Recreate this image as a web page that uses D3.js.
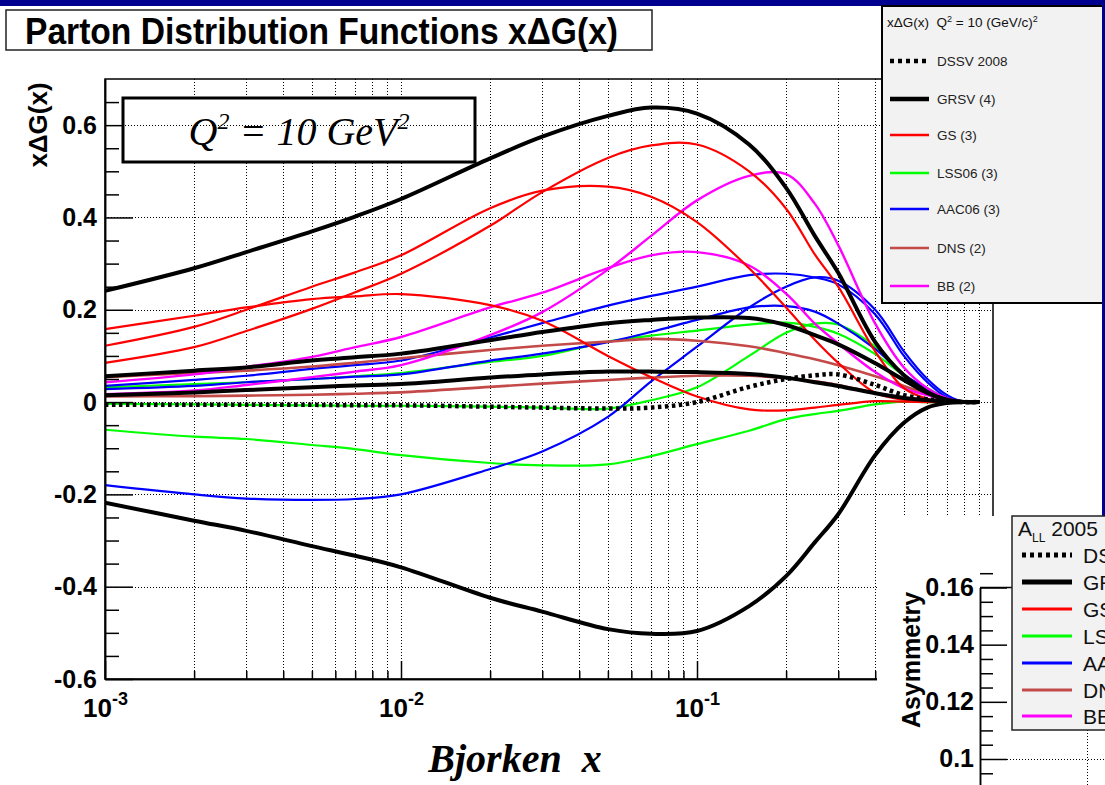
<!DOCTYPE html>
<html><head><meta charset="utf-8">
<script src="https://cdn.jsdelivr.net/npm/d3@7"></script>
<style>html,body{margin:0;padding:0;background:#fff;overflow:hidden}</style>
</head><body><svg id="c" width="1105" height="785"></svg>
<script>
// ---------------- DATA ----------------
const xPoints = [0.001,0.002,0.003,0.005,0.007,0.01,0.02,0.03,0.05,0.07,0.1,0.15,0.2,0.25,0.3,0.4,0.5,0.6,0.7,0.8,0.9];
const dssv2008 = [-0.006,-0.006,-0.006,-0.006,-0.007,-0.007,-0.01,-0.012,-0.014,-0.012,0.0,0.033,0.05,0.058,0.06,0.037,0.015,0.006,0.002,0,0];
const grsvMax  = [0.241,0.29,0.325,0.37,0.402,0.44,0.528,0.575,0.62,0.638,0.625,0.558,0.464,0.36,0.28,0.13,0.058,0.022,0.004,0,0];
const grsvStd  = [0.056,0.068,0.075,0.09,0.097,0.105,0.134,0.152,0.171,0.178,0.183,0.182,0.167,0.145,0.125,0.084,0.048,0.02,0.005,0,0];
const grsvZero = [0.015,0.021,0.026,0.032,0.036,0.039,0.053,0.06,0.066,0.066,0.065,0.061,0.053,0.043,0.035,0.019,0.009,0.004,0.001,0,0];
const grsvMin  = [-0.218,-0.257,-0.279,-0.312,-0.333,-0.358,-0.424,-0.454,-0.492,-0.502,-0.496,-0.442,-0.377,-0.304,-0.243,-0.115,-0.045,-0.012,-0.002,0,0];
const gsA = [0.085,0.119,0.154,0.202,0.238,0.278,0.382,0.455,0.529,0.556,0.558,0.50,0.419,0.32,0.25,0.11,0.03,0.007,0,0,0];
const gsB = [0.122,0.163,0.20,0.25,0.281,0.318,0.42,0.458,0.467,0.445,0.39,0.29,0.205,0.135,0.085,0.02,0.005,0.001,0,0,0];
const gsC = [0.158,0.187,0.205,0.223,0.229,0.234,0.21,0.176,0.10,0.054,0.012,-0.016,-0.018,-0.012,-0.006,0.002,0.001,0,0,0,0];
const lss1 = [0.032,0.039,0.043,0.05,0.056,0.063,0.087,0.1,0.131,0.144,0.155,0.168,0.172,0.163,0.148,0.104,0.058,0.03,0.008,0,0];
const lss2 = [-0.004,-0.005,-0.006,-0.007,-0.008,-0.008,-0.01,-0.012,-0.014,0.004,0.032,0.1,0.15,0.17,0.168,0.12,0.06,0.02,0.004,0,0];
const lss3 = [-0.06,-0.075,-0.08,-0.093,-0.102,-0.115,-0.132,-0.137,-0.135,-0.117,-0.091,-0.062,-0.037,-0.026,-0.019,-0.005,0.001,0,0,0,0];
const aac1 = [0.035,0.048,0.057,0.072,0.08,0.09,0.14,0.171,0.209,0.23,0.25,0.275,0.278,0.27,0.255,0.19,0.1,0.043,0.01,0,0];
const aac2 = [0.028,0.035,0.043,0.05,0.055,0.06,0.09,0.105,0.13,0.152,0.178,0.205,0.208,0.196,0.17,0.115,0.06,0.028,0.006,0,0];
const aac3 = [-0.18,-0.2,-0.209,-0.212,-0.21,-0.2,-0.145,-0.107,-0.032,0.045,0.12,0.205,0.25,0.27,0.263,0.2,0.11,0.05,0.015,0,0];
const dnsA = [0.054,0.063,0.068,0.077,0.085,0.095,0.113,0.122,0.131,0.137,0.133,0.121,0.106,0.093,0.08,0.056,0.035,0.017,0.004,0,0];
const dnsB = [0.012,0.013,0.014,0.016,0.018,0.021,0.033,0.04,0.048,0.053,0.057,0.057,0.052,0.045,0.037,0.02,0.008,0.003,0.001,0,0];
const bbA = [0.017,0.025,0.037,0.054,0.066,0.08,0.145,0.195,0.287,0.36,0.437,0.49,0.494,0.43,0.34,0.17,0.075,0.03,0.008,0,0];
const bbB = [0.043,0.06,0.076,0.098,0.119,0.141,0.205,0.237,0.29,0.318,0.325,0.296,0.235,0.17,0.127,0.065,0.03,0.015,0.004,0,0];

const yMajorTicks = [-0.6,-0.4,-0.2,0,0.2,0.4,0.6];
const yTickLabels = ["-0.6","-0.4","-0.2","0","0.2","0.4","0.6"];
const xMajorTicks = [0.001,0.01,0.1];
const xTickExponents = ["-3","-2","-1"];
const legendLabels = ["DSSV 2008","GRSV (4)","GS (3)","LSS06 (3)","AAC06 (3)","DNS (2)","BB (2)"];
const insetTicks = [0.16,0.14,0.12,0.1];
const insetTickLabels = ["0.16","0.14","0.12","0.1"];

// ---------------- STYLE ----------------
const C = {dssv:"#000",grsv:"#000",gs:"#ff0000",lss:"#00ff00",aac:"#0000ff",dns:"#c44a4a",bb:"#ff00ff"};
const series = [
  {v:lss3,c:C.lss,w:2.2},{v:lss2,c:C.lss,w:2.2},{v:lss1,c:C.lss,w:2.2},
  {v:aac3,c:C.aac,w:2.2},{v:aac2,c:C.aac,w:2.2},{v:aac1,c:C.aac,w:2.2},
  {v:dnsB,c:C.dns,w:2.6},{v:dnsA,c:C.dns,w:2.6},
  {v:bbB,c:C.bb,w:2.4},{v:bbA,c:C.bb,w:2.4},
  {v:gsC,c:C.gs,w:2.2},{v:gsB,c:C.gs,w:2.2},{v:gsA,c:C.gs,w:2.2},
  {v:grsvZero,c:C.grsv,w:4},{v:grsvStd,c:C.grsv,w:4},{v:grsvMax,c:C.grsv,w:4},{v:grsvMin,c:C.grsv,w:4},
  {v:dssv2008,c:C.dssv,w:4.5,dash:"3.5,3.5"}
];
const legendStyles = [
  {c:C.dssv,w:4.5,dash:"4,4"},{c:C.grsv,w:4.5},{c:C.gs,w:2.5},{c:C.lss,w:2.5},{c:C.aac,w:2.5},{c:C.dns,w:2.5},{c:C.bb,w:2.5}
];

const SANS = "'Liberation Sans', Arial, Helvetica, sans-serif";
const SERIF = "'Liberation Serif', 'Times New Roman', serif";
const W = 1105, H = 785;
const P = {l:105, r:993, t:79, b:679};

const svg = d3.select('#c');
svg.append('rect').attr('width',W).attr('height',H).attr('fill','#fff');

const x = d3.scaleLog().domain([1e-3,1]).range([P.l,P.r]);
const y = d3.scaleLinear().domain([-0.6,0.7]).range([P.b,P.t]);

// ---------- grid ----------
const xGridVals = [];
for (let e=-3;e<0;e++) for (let k=1;k<10;k++) xGridVals.push(+(k*Math.pow(10,e)).toPrecision(3));
const grid = svg.append('g').attr('stroke','#000').attr('stroke-width',1).attr('stroke-dasharray','1,2');
grid.selectAll('line.v').data(xGridVals.filter(v=>v>0.001)).enter().append('line')
  .attr('x1',d=>Math.round(x(d))+0.5).attr('x2',d=>Math.round(x(d))+0.5).attr('y1',P.t).attr('y2',P.b);
grid.selectAll('line.h').data(yMajorTicks.filter(v=>v>-0.6)).enter().append('line')
  .attr('x1',P.l).attr('x2',P.r).attr('y1',d=>Math.round(y(d))+0.5).attr('y2',d=>Math.round(y(d))+0.5);

// ---------- curves ----------
svg.append('clipPath').attr('id','pc').append('rect').attr('x',P.l).attr('y',P.t).attr('width',P.r-P.l).attr('height',P.b-P.t);
const line = d3.line().x(d=>x(d[0])).y(d=>y(d[1])).curve(d3.curveCatmullRom.alpha(0.5));
const gc = svg.append('g').attr('clip-path','url(#pc)');
series.forEach(s=>{
  gc.append('path').attr('d',line(xPoints.map((xv,i)=>[xv,s.v[i]])))
    .attr('fill','none').attr('stroke',s.c).attr('stroke-width',s.w)
    .attr('stroke-dasharray',s.dash||null).attr('stroke-linejoin','round');
});

// ---------- axes ----------
const yAxis = d3.axisLeft(y).tickValues(yMajorTicks).tickSizeInner(-28).tickSizeOuter(0).tickPadding(8)
  .tickFormat((d,i)=>yTickLabels[i]);
const gy = svg.append('g').attr('transform',`translate(${P.l},0)`).call(yAxis);
const yMinor = d3.range(-11,14).map(i=>+(i*0.05).toFixed(2)).filter(v=>!yMajorTicks.includes(v));
svg.append('g').attr('transform',`translate(${P.l},0)`)
  .call(d3.axisLeft(y).tickValues(yMinor).tickSizeInner(-14).tickSizeOuter(0).tickFormat(''));
const xAxis = d3.axisBottom(x).tickValues(xMajorTicks).tickSizeInner(-18).tickSizeOuter(0).tickFormat('');
const gx = svg.append('g').attr('transform',`translate(0,${P.b})`).call(xAxis);
svg.append('g').attr('transform',`translate(0,${P.b})`)
  .call(d3.axisBottom(x).tickValues(xGridVals.filter(v=>!xMajorTicks.includes(v))).tickSizeInner(-8).tickSizeOuter(0).tickFormat(''));
svg.selectAll('.domain').attr('stroke','#000').attr('stroke-width',1.5);
svg.selectAll('.tick line').attr('stroke','#000').attr('stroke-width',1.5);
gy.selectAll('text').attr('font-family',SANS).attr('font-weight','bold').attr('font-size',25).attr('fill','#000');
gx.selectAll('.tick').each(function(d,i){
  const t = d3.select(this).append('text').attr('y',38).attr('text-anchor','middle')
    .attr('font-family',SANS).attr('font-weight','bold').attr('fill','#000');
  t.append('tspan').attr('font-size',26).text('10');
  t.append('tspan').attr('font-size',18).attr('dy',-12).text(xTickExponents[i]);
});
// frame
svg.append('rect').attr('x',P.l).attr('y',P.t).attr('width',P.r-P.l).attr('height',P.b-P.t)
  .attr('fill','none').attr('stroke','#000').attr('stroke-width',1.5);

// axis titles
svg.append('text').attr('transform','translate(47,125) rotate(-90)').attr('text-anchor','middle')
  .attr('font-family',SANS).attr('font-weight','bold').attr('font-size',26).text('x\u0394G(x)');
svg.append('text').attr('x',515).attr('y',772).attr('text-anchor','middle').style('white-space','pre')
  .attr('font-family',SERIF).attr('font-weight','bold').attr('font-style','italic').attr('font-size',40).text('Bjorken  x');

// Q2 box
svg.append('rect').attr('x',123).attr('y',98).attr('width',352).attr('height',64).attr('fill','#fff').attr('stroke','#000').attr('stroke-width',3);
svg.append('line').attr('x1',125).attr('x2',473).attr('y1',Math.round(y(0.6))+0.5).attr('y2',Math.round(y(0.6))+0.5)
  .attr('stroke','#000').attr('stroke-width',1).attr('stroke-dasharray','1,2');
const qt = svg.append('text').attr('x',299).attr('y',145).attr('text-anchor','middle')
  .attr('font-family',SERIF).attr('font-style','italic').attr('font-size',40);
qt.append('tspan').text('Q');
qt.append('tspan').attr('font-size',24).attr('dy',-16).text('2');
qt.append('tspan').attr('dy',16).text(' = 10 GeV');
qt.append('tspan').attr('font-size',24).attr('dy',-16).text('2');

// ---------- title ----------
svg.append('rect').attr('x',0).attr('y',0).attr('width',W).attr('height',6).attr('fill','#000090');
svg.append('rect').attr('x',6).attr('y',10).attr('width',646).attr('height',40).attr('fill','#fff').attr('stroke','#222').attr('stroke-width',1.5);
svg.append('text').attr('x',25).attr('y',44).attr('textLength',593).attr('lengthAdjust','spacingAndGlyphs')
  .attr('font-family',SANS).attr('font-weight','bold').attr('font-size',36).text('Parton Distribution Functions x\u0394G(x)');

// ---------- top-right legend ----------
const lg = svg.append('g');
lg.append('rect').attr('x',882).attr('y',6).attr('width',230).attr('height',297).attr('fill','#f2f2f2').attr('stroke','#000').attr('stroke-width',2);
const lh = lg.append('text').attr('x',887).attr('y',27).attr('font-family',SANS).attr('font-size',13.5).attr('fill','#111').style('white-space','pre');
lh.append('tspan').text('x\u0394G(x)  Q');
lh.append('tspan').attr('font-size',9).attr('dy',-5).text('2');
lh.append('tspan').attr('dy',5).text(' = 10 (GeV/c)');
lh.append('tspan').attr('font-size',9).attr('dy',-5).text('2');
const legY = [61,99,135,173,209,248,286];
legendLabels.forEach((lab,i)=>{
  const st = legendStyles[i];
  lg.append('line').attr('x1',890).attr('x2',929).attr('y1',legY[i]).attr('y2',legY[i])
    .attr('stroke',st.c).attr('stroke-width',st.w).attr('stroke-dasharray',st.dash||null);
  lg.append('text').attr('x',937).attr('y',legY[i]+5).attr('font-family',SANS).attr('font-size',13.5).attr('fill','#222').text(lab);
});

// blue right edge
svg.append('line').attr('x1',1103.5).attr('x2',1103.5).attr('y1',0).attr('y2',516).attr('stroke','#000090').attr('stroke-width',3);

// ---------- inset (asymmetry panel) ----------
const ins = svg.append('g');
ins.append('rect').attr('x',877).attr('y',516).attr('width',228).attr('height',269).attr('fill','#fff');
const yi = d3.scaleLinear().domain([0.16,0.0909]).range([587.5,785]);
ins.append('line').attr('x1',1007).attr('x2',1105).attr('y1',Math.round(yi(0.1))+0.5).attr('y2',Math.round(yi(0.1))+0.5)
  .attr('stroke','#000').attr('stroke-dasharray','1,2');
ins.append('line').attr('x1',1087.5).attr('x2',1087.5).attr('y1',730).attr('y2',785)
  .attr('stroke','#000').attr('stroke-dasharray','1,2');
const gi = ins.append('g').attr('transform','translate(980,0)')
  .call(d3.axisLeft(yi).tickValues(insetTicks).tickSizeInner(-27).tickSizeOuter(0).tickPadding(6).tickFormat((d,i)=>insetTickLabels[i]));
const insMinor = d3.range(0,15).map(i=>+(0.095+i*0.005).toFixed(3)).filter(v=>!insetTicks.includes(v));
ins.append('g').attr('transform','translate(980,0)')
  .call(d3.axisLeft(yi).tickValues(insMinor).tickSizeInner(-13).tickSizeOuter(0).tickFormat(''));
ins.selectAll('.domain').attr('stroke','#000').attr('stroke-width',1.5);
ins.selectAll('.tick line').attr('stroke','#000').attr('stroke-width',1.5);
gi.selectAll('text').attr('font-family',SANS).attr('font-weight','bold').attr('font-size',25).attr('fill','#000');
ins.append('line').attr('x1',980).attr('x2',1012).attr('y1',587.5).attr('y2',587.5).attr('stroke','#000').attr('stroke-width',1.5);
ins.append('text').attr('transform','translate(920,660) rotate(-90)').attr('text-anchor','middle')
  .attr('font-family',SANS).attr('font-weight','bold').attr('font-size',25).text('Asymmetry');
// inset legend
ins.append('rect').attr('x',1012).attr('y',516).attr('width',110).attr('height',214).attr('fill','#f2f2f2').attr('stroke','#222').attr('stroke-width',1.5);
const ah = ins.append('text').attr('x',1018).attr('y',536).attr('font-family',SANS).attr('font-size',21).attr('fill','#111').style('white-space','pre');
ah.append('tspan').text('A');
ah.append('tspan').attr('font-size',12).attr('dy',6).text('LL');
ah.append('tspan').attr('dy',-6).text(' 2005');
const insLegY = [555,582,609,636,663,690,716];
legendLabels.forEach((lab,i)=>{
  const st = legendStyles[i];
  ins.append('line').attr('x1',1022).attr('x2',1072).attr('y1',insLegY[i]).attr('y2',insLegY[i])
    .attr('stroke',st.c).attr('stroke-width',i<2?5:3).attr('stroke-dasharray',i===0?'4,4':null);
  ins.append('text').attr('x',1083).attr('y',insLegY[i]+8).attr('font-family',SANS).attr('font-size',21).attr('fill','#111').text(lab);
});
</script></body></html>
